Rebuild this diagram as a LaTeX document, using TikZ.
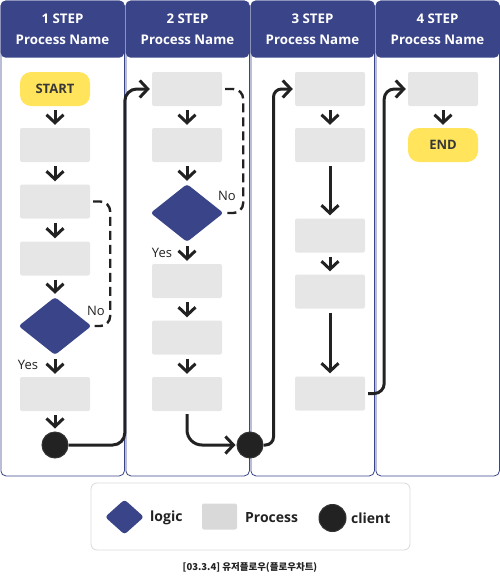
\documentclass[tikz,border=0pt]{standalone}
\usepackage{fontspec}
\setmainfont{Open Sans}
\newfontfamily\krfont{Noto Sans CJK KR}
\usepackage{tikz}
\usetikzlibrary{arrows.meta, shapes.geometric}
\definecolor{navy}{HTML}{3A4488}
\definecolor{pale}{HTML}{E6E6E6}
\definecolor{sun}{HTML}{FFE45C}
\definecolor{ink}{HTML}{222222}

\begin{document}
\begin{tikzpicture}[x=1pt, y=-1pt,
	lane/.style={draw=navy, line width=0.8pt, rounded corners=5pt, minimum width=123.5pt, minimum height=475pt, anchor=north west, inner sep=0pt},
	head/.style={fill=navy, rounded corners=5pt, minimum width=123.5pt, minimum height=57pt, anchor=north west, inner sep=0pt, text=white, align=center, font=\bfseries\fontsize{13.3}{21}\selectfont},
	proc/.style={fill=pale, rounded corners=2pt, minimum width=70pt, minimum height=34pt, inner sep=0pt},
	term/.style={fill=sun, rounded corners=11pt, minimum width=70pt, minimum height=34pt, inner sep=0pt, text=ink!90, font=\bfseries\fontsize{13}{15}\selectfont},
	logic/.style={diamond, fill=navy, rounded corners=3pt, minimum width=73pt, minimum height=58pt, inner sep=0pt},
	client/.style={circle, fill=ink, draw=black!80, line width=1pt, minimum size=26pt, inner sep=0pt},
	go/.style={draw=ink, line width=3pt, arrows={-Straight Barb[length=8pt, width=17pt]}, shorten <=4pt, shorten >=3pt},
	link/.style={draw=ink, line width=3pt, arrows={-Straight Barb[length=8pt, width=17pt]}, rounded corners=12pt},
	retry/.style={draw=ink, line width=2.4pt, dash pattern=on 9pt off 5pt, rounded corners=10pt},
	lbl/.style={text=ink, font=\fontsize{13}{15}\selectfont, inner sep=0pt},
	key/.style={text=ink, font=\bfseries\fontsize{14}{16}\selectfont, anchor=west, inner sep=0pt}]
	\useasboundingbox (0,0) rectangle (500,576);
	\foreach \i in {1,2,3,4} {
		\node[lane] (lane\i) at ({0.5+125*(\i-1)},0.5) {};
		\node[head] (head\i) at ({0.5+125*(\i-1)},0.5) {\i\ STEP\\Process Name};
	}
	\node[term] (start) at (55,89) {START};
	\node[proc] (p11) at (55,145) {};
	\node[proc] (p12) at (55,201.5) {};
	\node[proc] (p13) at (55,258.5) {};
	\node[logic] (d1) at (55,326) {};
	\node[proc] (p14) at (55,394) {};
	\node[client] (c1) at (55,445) {};
	\node[proc] (p21) at (187,89) {};
	\node[proc] (p22) at (187,145) {};
	\node[logic] (d2) at (187,213) {};
	\node[proc] (p23) at (187,281) {};
	\node[proc] (p24) at (187,337.5) {};
	\node[proc] (p25) at (187,394) {};
	\node[client] (c2) at (250,445) {};
	\node[proc] (p31) at (330,89) {};
	\node[proc] (p32) at (330,145) {};
	\node[proc] (p33) at (330,235.5) {};
	\node[proc] (p34) at (330,291.5) {};
	\node[proc] (p35) at (330,393.5) {};
	\node[proc] (p41) at (443,89) {};
	\node[term] (finish) at (443,145) {END};
	\node[lbl] (no1) at (96,311) {No};
	\node[lbl] (yes1) at (28,365) {Yes};
	\node[lbl] (no2) at (227,196) {No};
	\node[lbl] (yes2) at (162,253) {Yes};
	\foreach \a/\b in {start/p11, p11/p12, p12/p13, p13/d1, d1/p14, p14/c1, p21/p22, p22/d2, d2/p23, p23/p24, p24/p25, p31/p32, p32/p33, p33/p34, p34/p35, p41/finish}
		\draw[go] (\a) -- (\b);
	\draw[retry] ([xshift=3pt]p12.east) -- ++(17,0) |- ([xshift=3pt]d1.east);
	\draw[retry] ([xshift=3pt]p21.east) -- ++(18,0) |- ([xshift=3pt]d2.east);
	\draw[link, shorten >=2pt] (c1.east) -| (lane1.east |- p21.west) -- (p21.west);
	\draw[link, rounded corners=15pt, shorten <=3pt, shorten >=1pt] (p25.south) |- (c2.west);
	\draw[link, rounded corners=8pt, shorten >=2pt] (c2.east) -- ++(10,0) |- (p31.west);
	\draw[link, rounded corners=10pt, shorten >=2pt] ([xshift=3pt]p35.east) -- ++(16,0) |- (p41.west);
	\node[draw=black!15, line width=0.8pt, rounded corners=6pt, minimum width=319pt, minimum height=67pt] (legend) at (250.5,516.5) {};
	\node[logic, minimum width=39pt, minimum height=35pt] (klogic) at (124.5,517) {};
	\node[key] (tlogic) at (150,518) {logic};
	\node[proc, fill=black!15, minimum width=35pt, minimum height=26pt] (kproc) at (219.5,516.5) {};
	\node[key] (tproc) at (245,518) {Process};
	\node[client, minimum size=27pt] (kclient) at (332.5,518) {};
	\node[key] (tclient) at (351,518) {client};
	\node[text=ink, font=\krfont\bfseries\fontsize{9.5}{11}\selectfont] (caption) at (250,567) {[03.3.4] 유저플로우(플로우차트)};
\end{tikzpicture}
\end{document}
